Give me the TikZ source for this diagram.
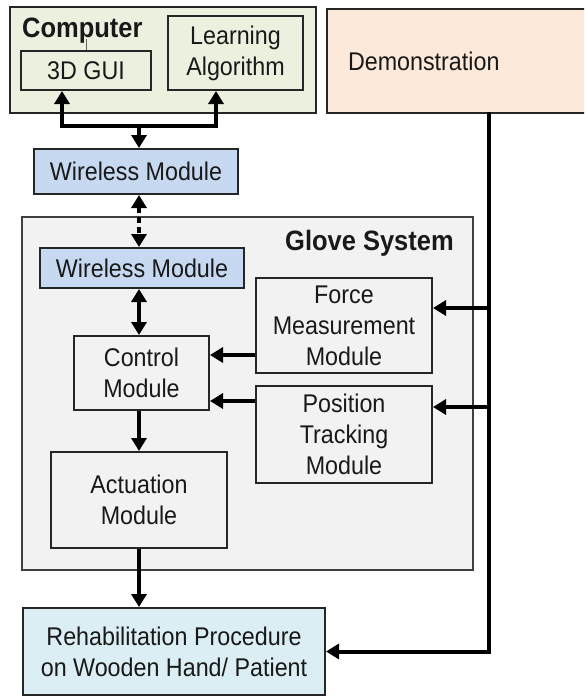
\documentclass[tikz,border=0pt]{standalone}
\usepackage{fontspec}
\setmainfont{Liberation Sans}[FakeStretch=0.91]
\usepackage{tikz}
\usetikzlibrary{arrows.meta}
\definecolor{pcgreen}{HTML}{EBF1DE}
\definecolor{demopeach}{HTML}{FDE9D9}
\definecolor{wlblue}{HTML}{C6D9F1}
\definecolor{glovegray}{HTML}{F2F2F2}
\definecolor{rehabcyan}{HTML}{DBEEF4}
\definecolor{boxline}{HTML}{262626}
\tikzset{
    every node/.style={font=\fontsize{25.6}{31}\selectfont, align=center,
        text=black!90}
}
\tikzset{
    box/.style={draw=boxline, line width=2pt, inner sep=0pt},
    title/.style={font=\fontsize{28}{31}\selectfont\bfseries, inner sep=0pt}
}
\tikzset{
    arr/.style={line width=4pt, -{Triangle[length=13pt,width=15pt]}},
    arrboth/.style={line width=4pt,
        {Triangle[length=13pt,width=15pt]}-{Triangle[length=13pt,width=15pt]}}
}

\begin{document}
\begin{tikzpicture}[x=1pt, y=-1pt]
	\useasboundingbox (0,0) rectangle (584,696);
	\clip (0,0) rectangle (584,696);
	% computer side
	\node [box, fill=pcgreen, minimum width=306, minimum height=106] (comp) at (163,60) {};
	\node [title, anchor=base west] (comptitle) at (22,37) {Computer};
	\node [box, fill=pcgreen, minimum width=130, minimum height=39] (gui) at (86,70.5) {3D GUI};
	\node [box, fill=pcgreen, minimum width=135, minimum height=74] (learn) at (235.5,53) {Learning\\Algorithm};
	\draw [black!60, line width=0.8pt] (gui.north) -- ++(0,-11);
	\node [box, fill=demopeach, anchor=north west, minimum height=104, text width=240,
		inner xsep=21pt, align=left] (demo) at (326,8) {Demonstration};
	\node [box, fill=wlblue, minimum width=204, minimum height=45] (wlpc) at (136,171.5) {Wireless Module};
	% glove
	\node [box, draw=black!75, fill=glovegray, minimum width=451, minimum height=353] (glove) at (247.5,393.5) {};
	\node [title, anchor=base west] (glovetitle) at (285,250) {Glove System};
	\node [box, fill=wlblue, minimum width=204, minimum height=40] (wlglove) at (142,268) {Wireless Module};
	\node [box, fill=glovegray, minimum width=176, minimum height=95] (force) at (344,325.5) {Force\\Measurement\\Module};
	\node [box, fill=glovegray, minimum width=135, minimum height=74] (ctrl) at (141.5,373) {Control\\Module};
	\node [box, fill=glovegray, minimum width=176, minimum height=97] (pos) at (344,434.5) {Position\\Tracking\\Module};
	\node [box, fill=glovegray, minimum width=176, minimum height=96] (act) at (139,500) {Actuation\\Module};
	\node [box, fill=rehabcyan, minimum width=302, minimum height=87] (rehab) at (174,651.5) {Rehabilitation Procedure\\on Wooden Hand/ Patient};
	% connectors
	\coordinate (j) at (139,126);
	\coordinate (tap) at (489,112);
	\coordinate (cin1) at ([yshift=18pt]ctrl.east);
	\coordinate (cin2) at ([yshift=-28pt]ctrl.east);
	\coordinate (fin) at ([yshift=17.5pt]force.east);
	\coordinate (pin) at ([yshift=27.5pt]pos.east);
	\draw [arrboth] ([xshift=-24pt]gui.south) |- (j) -| ([xshift=-19.5pt]learn.south);
	\draw [arr] (j) -- (j |- wlpc.north);
	\draw [arrboth, dash pattern=on 6pt off 4pt] (j |- wlpc.south) -- (j |- wlglove.north);
	\draw [arrboth] (act.north |- wlglove.south) -- (act.north |- ctrl.north);
	\draw [arr] (cin1 -| force.west) -- (cin1);
	\draw [arr] (cin2 -| pos.west) -- (cin2);
	\draw [arr] (act.north |- ctrl.south) -- (act.north);
	\draw [arr] (act.south) -- (act.south |- rehab.north);
	\draw [arr] (tap) |- (rehab.east);
	\draw [arr] (tap |- fin) -- (fin);
	\draw [arr] (tap |- pin) -- (pin);
\end{tikzpicture}
\end{document}
